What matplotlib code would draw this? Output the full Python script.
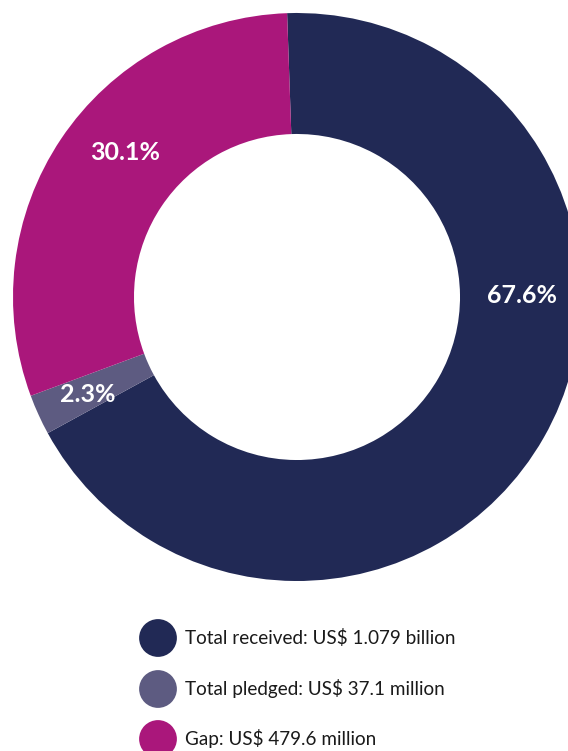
import numpy as np
import matplotlib.pyplot as plt

# funding breakdown
labels = ['Total received: US$ 1.079 billion',
          'Total pledged: US$ 37.1 million',
          'Gap: US$ 479.6 million']
shares = [67.6, 2.3, 30.1]
colors = ['#212955', '#5d5b81', '#aa177b']

# where the percentage labels sit (degrees, fraction of radius)
lab_angle = [0.5, 205.0, 140.0]
lab_rad = [0.792, 0.814, 0.791]

W, H = 568, 751
fig = plt.figure(figsize=(W / 100, H / 100), dpi=100, facecolor='white')

# donut: centre at (297, 297) px from top-left, radius 284 px
ax = fig.add_axes([13 / W, (H - 581) / H, 568 / W, 568 / H])
wedges, _ = ax.pie(shares, colors=colors, startangle=92, counterclock=False,
                   radius=1.0, wedgeprops=dict(width=0.426, linewidth=0))
ax.set_xlim(-1, 1)
ax.set_ylim(-1, 1)
ax.set_aspect('equal')
ax.axis('off')

for s, a, r in zip(shares, lab_angle, lab_rad):
    t = np.deg2rad(a)
    ax.text(r * np.cos(t), r * np.sin(t), f'{s:.1f}%', ha='center', va='center',
            color='white', fontsize=18, fontweight='bold', family='Lato')

# legend drawn in pixel coords
lg = fig.add_axes([0, 0, 1, 1])
lg.set_xlim(0, W)
lg.set_ylim(H, 0)
lg.axis('off')
lg.patch.set_alpha(0)
ys = [638, 689, 739]
lg.scatter([158] * 3, ys, s=740, c=colors, linewidths=0, clip_on=False)
for y, lab in zip(ys, labels):
    lg.text(185, y, lab, ha='left', va='center', fontsize=13.6,
            color='#1a1a1a', family='Lato')

fig.savefig('out.png', dpi=100, facecolor='white')
